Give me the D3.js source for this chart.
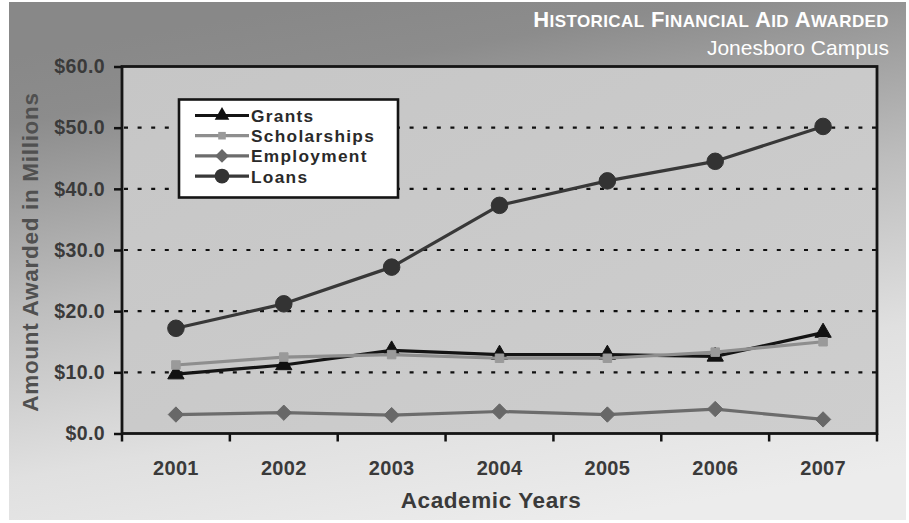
<!DOCTYPE html>
<html>
<head>
<meta charset="utf-8">
<script src="https://cdn.jsdelivr.net/npm/d3@7"></script>
<style>
  html, body { margin: 0; padding: 0; background: #ffffff; }
  svg { display: block; font-family: "Liberation Sans", Arial, Helvetica, sans-serif; }
</style>
</head>
<body>
<svg id="chart" width="909" height="523"></svg>
<script>
// ---- data ----
const years = ["2001", "2002", "2003", "2004", "2005", "2006", "2007"];
const grants       = [9.7, 11.2, 13.6, 12.9, 12.9, 12.6, 16.5];
const scholarships = [11.2, 12.5, 12.9, 12.3, 12.3, 13.3, 15.0];
const employment   = [3.1, 3.4, 3.0, 3.6, 3.1, 4.0, 2.3];
const loans        = [17.2, 21.2, 27.2, 37.3, 41.3, 44.5, 50.2];
const yTicks = [0, 10, 20, 30, 40, 50, 60];
const seriesNames = ["Grants", "Scholarships", "Employment", "Loans"];
const titleText = "Historical Financial Aid Awarded";
const subtitleText = "Jonesboro Campus";
const yTitle = "Amount Awarded in Millions";
const xTitle = "Academic Years";

const seriesValues = [grants, scholarships, employment, loans];
const seriesStyle = [
  { line: "#141414", fill: "#111111", symbol: d3.symbolTriangle, size: 115 },
  { line: "#8e8e8e", fill: "#9a9a9a", symbol: d3.symbolSquare,   size: 72 },
  { line: "#6c6c6c", fill: "#686868", symbol: d3.symbolDiamond2, size: 150 },
  { line: "#383838", fill: "#333333", symbol: d3.symbolCircle,   size: 215 }
];

const svg = d3.select("#chart");
const defs = svg.append("defs");

// background gradient panel
const bg = defs.append("linearGradient").attr("id", "bgGrad")
  .attr("x1", "0.35").attr("y1", "0").attr("x2", "0.65").attr("y2", "1");
bg.append("stop").attr("offset", "0%").attr("stop-color", "#888888");
bg.append("stop").attr("offset", "12%").attr("stop-color", "#8c8c8c");
bg.append("stop").attr("offset", "45%").attr("stop-color", "#bdbdbd");
bg.append("stop").attr("offset", "75%").attr("stop-color", "#e0e0e0");
bg.append("stop").attr("offset", "100%").attr("stop-color", "#ececec");

const pg = defs.append("linearGradient").attr("id", "plotGrad")
  .attr("x1", "0").attr("y1", "0").attr("x2", "1").attr("y2", "1");
pg.append("stop").attr("offset", "0%").attr("stop-color", "#c6c6c6");
pg.append("stop").attr("offset", "100%").attr("stop-color", "#cecece");

svg.append("rect").attr("x", 9).attr("y", 2).attr("width", 897).attr("height", 518)
  .attr("fill", "url(#bgGrad)");

// scales
const pLeft = 122, pRight = 877, pTop = 66.5, pBottom = 433.5;
const x = d3.scaleBand().domain(years).range([pLeft, pRight]);
const y = d3.scaleLinear().domain([0, 60]).range([pBottom, pTop]);

// plot area
svg.append("rect").attr("x", pLeft).attr("y", pTop).attr("width", pRight - pLeft).attr("height", pBottom - pTop)
  .attr("fill", "url(#plotGrad)");

// gridlines
svg.append("g").selectAll("line").data(yTicks.filter(d => d > 0 && d < 60)).join("line")
  .attr("x1", pLeft + 2).attr("x2", pRight)
  .attr("y1", d => y(d)).attr("y2", d => y(d))
  .attr("stroke", "#111").attr("stroke-width", 2.2)
  .attr("stroke-dasharray", "4,9.6");

// y axis
const yAxis = svg.append("g").attr("transform", `translate(${pLeft},0)`)
  .call(d3.axisLeft(y).tickValues(yTicks).tickFormat(d => "$" + d.toFixed(1)).tickSize(8).tickPadding(9));
yAxis.select(".domain").remove();
yAxis.selectAll(".tick line").attr("stroke", "#111").attr("stroke-width", 2.5);
yAxis.selectAll(".tick text").attr("fill", "#3a3a3a").attr("font-size", 19.5).attr("font-weight", "bold")
  .attr("letter-spacing", 0.4).attr("font-family", "'Liberation Sans', Arial, sans-serif");

// x axis labels at band centers
const xAxis = svg.append("g").attr("transform", `translate(0,${pBottom})`)
  .call(d3.axisBottom(x).tickSize(0).tickPadding(27));
xAxis.select(".domain").remove();
xAxis.selectAll(".tick text").attr("fill", "#3a3a3a").attr("font-size", 20).attr("font-weight", "bold")
  .attr("letter-spacing", 0.3).attr("font-family", "'Liberation Sans', Arial, sans-serif");

// x tick marks at category boundaries
const bounds = years.map(d => x(d)).concat([pRight]);
svg.append("g").selectAll("line").data(bounds).join("line")
  .attr("x1", d => d).attr("x2", d => d)
  .attr("y1", pBottom).attr("y2", pBottom + 8)
  .attr("stroke", "#111").attr("stroke-width", 2.5);

// plot border
svg.append("rect").attr("x", pLeft).attr("y", pTop).attr("width", pRight - pLeft).attr("height", pBottom - pTop)
  .attr("fill", "none").attr("stroke", "#151515").attr("stroke-width", 2.8);

// series lines
const line = d3.line().x((d, i) => x(years[i]) + x.bandwidth() / 2).y(d => y(d));
seriesValues.forEach((vals, si) => {
  const st = seriesStyle[si];
  const g = svg.append("g");
  g.append("path").datum(vals).attr("d", line)
    .attr("fill", "none").attr("stroke", st.line).attr("stroke-width", 3.2).attr("stroke-linejoin", "round");
  g.selectAll("path.m").data(vals).join("path").attr("class", "m")
    .attr("transform", (d, i) => `translate(${x(years[i]) + x.bandwidth() / 2},${y(d)})`)
    .attr("d", d3.symbol().type(st.symbol).size(st.size))
    .attr("fill", st.fill).attr("stroke", st.fill).attr("stroke-width", 1);
});

// legend
const lg = svg.append("g");
lg.append("rect").attr("x", 179).attr("y", 99.5).attr("width", 219).attr("height", 98)
  .attr("fill", "#ffffff").attr("stroke", "#151515").attr("stroke-width", 2.6);
seriesNames.forEach((name, i) => {
  const st = seriesStyle[i];
  const cy = 115.5 + i * 20.2;
  lg.append("line").attr("x1", 195).attr("x2", 249).attr("y1", cy).attr("y2", cy)
    .attr("stroke", st.line).attr("stroke-width", 3.2);
  lg.append("path").attr("transform", `translate(222,${cy})`)
    .attr("d", d3.symbol().type(st.symbol).size(st.size * 0.8))
    .attr("fill", st.fill);
  lg.append("text").attr("x", 251).attr("y", cy + 6.5).text(name)
    .attr("font-size", 17.3).attr("font-weight", "bold").attr("letter-spacing", 1.3).attr("fill", "#2a2a2a");
});

// title (small caps)
const title = svg.append("text").attr("x", 889).attr("y", 27).attr("text-anchor", "end")
  .attr("fill", "#ffffff").attr("font-weight", "bold").attr("letter-spacing", 0.4);
titleText.split(" ").forEach((word, wi) => {
  title.append("tspan").attr("font-size", 22).text((wi > 0 ? " " : "") + word[0].toUpperCase());
  title.append("tspan").attr("font-size", 17).text(word.slice(1).toUpperCase());
});
svg.append("text").attr("x", 889).attr("y", 55).attr("text-anchor", "end")
  .attr("fill", "#ffffff").attr("font-size", 21).text(subtitleText);

// axis titles
svg.append("text").attr("transform", `translate(38,${(pTop + pBottom) / 2 + 2}) rotate(-90)`)
  .attr("text-anchor", "middle").attr("font-size", 22.5).attr("font-weight", "bold")
  .attr("letter-spacing", 0.7).attr("fill", "#505050").text(yTitle);
svg.append("text").attr("x", 491).attr("y", 508).attr("text-anchor", "middle")
  .attr("font-size", 22.5).attr("font-weight", "bold").attr("letter-spacing", 0.6)
  .attr("fill", "#3a3a3a").text(xTitle);
</script>
</body>
</html>
